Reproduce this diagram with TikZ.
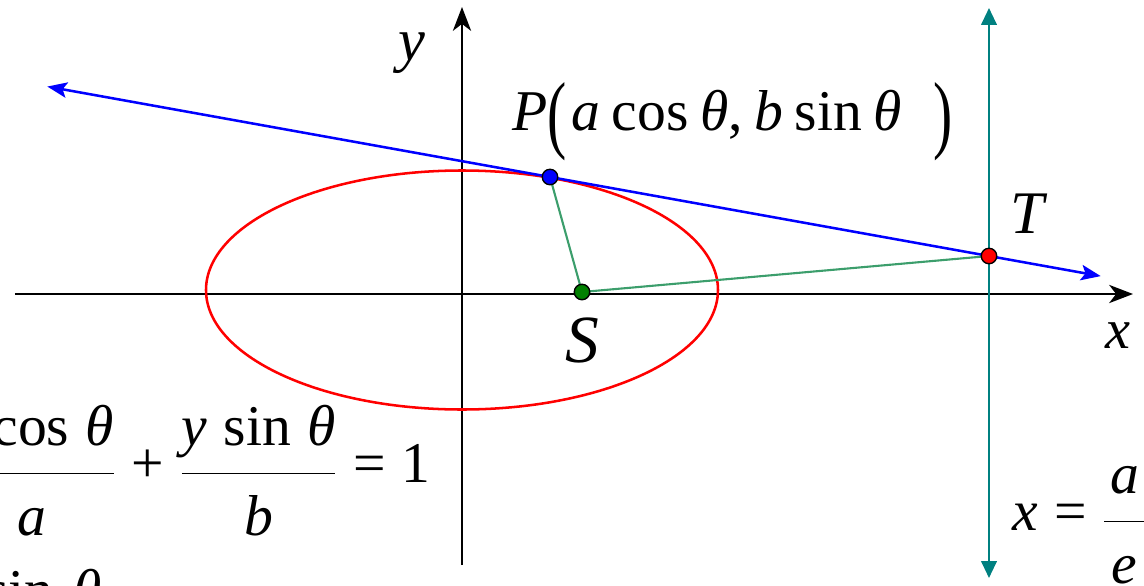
\documentclass[tikz,border=0pt]{standalone}
\usepackage{amsmath}
\usepackage{graphicx}
\usepackage{fontspec}
\setmainfont{Liberation Serif}
\usetikzlibrary{arrows.meta, calc, positioning}
\definecolor{linkgreen}{RGB}{60,158,108}
\definecolor{dirteal}{RGB}{0,128,128}
\definecolor{focgreen}{RGB}{0,128,0}
\newcommand{\iv}[1]{\text{\itshape #1}}
\newcommand{\fn}[1]{\text{#1}}
\newcommand{\gap}{\hspace{0.28em}}
\newcommand{\numr}[1]{#1\rule[-0.4em]{0pt}{0pt}}
\newcommand{\denr}[1]{\rule{0pt}{1.0em}#1}
\newcommand{\tallparen}[1]{\raisebox{-0.22em}{\scalebox{1}[1.5]{#1}}}

\begin{document}
\begin{tikzpicture}[
    x=2.5cm, y=2.5cm,
    axis/.style={line width=1.4pt, -{Stealth[length=17pt, width=13pt, inset=5pt]}},
    tangent/.style={blue, line width=1.8pt, {Stealth[length=14pt, width=11pt, inset=3pt]}-{Stealth[length=14pt, width=11pt, inset=3pt]}},
    directrix/.style={dirteal, line width=1.6pt, {Triangle[length=12pt, width=11pt]}-{Triangle[length=12pt, width=11pt]}},
    link/.style={linkgreen, line width=1.5pt},
    dot/.style={circle, draw=black, line width=1pt, inner sep=0pt, minimum size=11pt},
    lbl/.style={font=\fontsize{#1}{#1}\selectfont, inner sep=0pt},
    lbl/.default=41
]
    \useasboundingbox (-4.62,-2.91) rectangle (6.82,2.94);

    % axes
    \coordinate (O) at (0,0);
    \coordinate (xl) at (-4.47,0);
    \coordinate (xr) at (6.71,0);
    \coordinate (yb) at (0,-2.71);
    \coordinate (yt) at (0,2.87);
    \draw[axis] (xl) -- (xr);
    \draw[axis] (yb) -- (yt);

    % ellipse
    \draw[red, line width=1.8pt] (0,0.04) ellipse [x radius=2.56, y radius=1.195];

    % points
    \coordinate (P) at (0.88,1.17);
    \coordinate (S) at (1.20,0.02);
    \coordinate (T) at (5.27,0.38);

    % directrix
    \coordinate (dt) at (5.27,2.86);
    \coordinate (db) at (5.27,-2.84);
    \draw[directrix] (db) -- (dt);

    % tangent at P
    \coordinate (tl) at ($(P)!-1.145!(T)$);
    \coordinate (tr) at ($(P)!1.2545!(T)$);
    \draw[tangent] (tl) -- (tr);

    % focal links
    \draw[link] (P) -- (S) -- (T);

    \node[dot, fill=blue] (Pdot) at (P) {};
    \node[dot, fill=focgreen] (Sdot) at (S) {};
    \node[dot, fill=red] (Tdot) at (T) {};

    % labels
    \node[lbl=43, anchor=base west] (ylab) at (-0.64,2.34) {\textit{y}};
    \node[lbl=40, anchor=base west] (xlab) at (6.43,-0.54) {\textit{x}};
    \node[lbl=41, anchor=base west] (Plab) at (0.50,1.64)
        {\textit{P}\tallparen{(}\hspace{0.08em}\textit{a}\hspace{0.2em}cos\hspace{0.2em}\textit{θ},\hspace{0.2em}\textit{b}\hspace{0.2em}sin\hspace{0.2em}\textit{θ}\hspace{0.55em}\tallparen{)}};
    \node[lbl=43, anchor=base west] (Tlab) at (5.48,0.61) {\textit{T}};
    \node[lbl=48, anchor=base west] (Slab) at (1.03,-0.68) {\textit{S}};

    \node[lbl, anchor=base east] (tangeq) at (-0.31,-1.88)
        {$\dfrac{\numr{\iv{x}\gap\fn{cos}\gap\iv{θ}}}{\denr{\iv{a}}}\gap\fn{+}\gap\dfrac{\numr{\iv{y}\gap\fn{sin}\gap\iv{θ}}}{\denr{\iv{b}}}\gap\fn{=}\gap\fn{1}$};
    \node[lbl, anchor=base west] (parpt) at (-4.76,-3.15) {sin\hspace{0.35em}\textit{θ}};
    \node[lbl, anchor=base west] (direq) at (5.50,-2.36)
        {$\iv{x}\gap\fn{=}\gap\dfrac{\numr{\hspace{0.1em}\iv{a}\hspace{0.1em}}}{\denr{\iv{e}}}$};
\end{tikzpicture}
\end{document}
